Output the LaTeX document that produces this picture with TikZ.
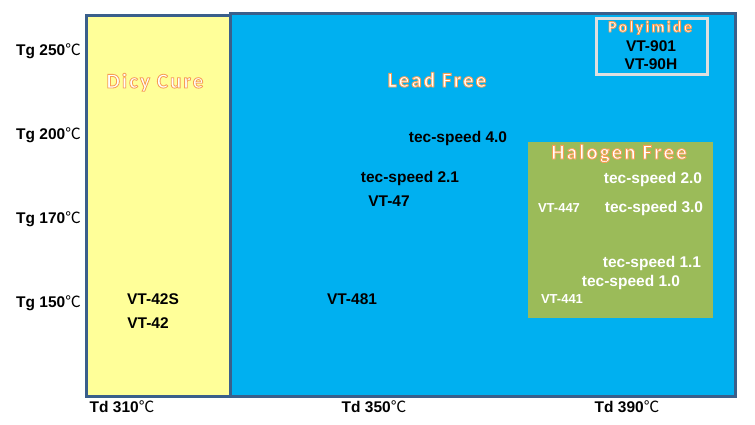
\documentclass[tikz,border=0pt]{standalone}
\usepackage{fontspec}
\setmainfont{Liberation Sans}
\newfontfamily\glowfont[LetterSpace=10]{Carlito}
\newfontfamily\cjk{Noto Sans CJK SC}
\usepackage{xcolor}
\usepackage{tikz}
\usetikzlibrary{positioning}

\definecolor{leadblue}{HTML}{00B0F0}
\definecolor{dicyyellow}{HTML}{FFFF99}
\definecolor{halogreen}{HTML}{9BBB59}
\definecolor{frameblue}{HTML}{3A5F8B}

\newcommand{\degc}{{\cjk\mdseries ℃}}
%% white letters with an orange outline
\newcommand{\outlined}[1]{%
  \special{pdf:literal direct 2 Tr 0.85 w 0.97 0.62 0.33 RG}#1%
  \special{pdf:literal direct 0 Tr}}

\begin{document}
\begin{tikzpicture}[x=1pt, y=-1pt,
  lbl/.style={anchor=base, inner sep=0pt, font=\fontsize{15.5}{18}\selectfont\bfseries},
  wlbl/.style={lbl, text=white},
  small/.style={font=\fontsize{13}{15}\selectfont\bfseries},
  title/.style={anchor=base, inner sep=0pt, text=white,
    font=\fontsize{21}{24}\glowfont\bfseries},
  frame/.style={draw=frameblue, line width=3pt}]
  \useasboundingbox (0,0) rectangle (755,424);
  %% regions
  \draw[frame, fill=dicyyellow] (86,15) rectangle (230,396);
  \draw[frame, fill=leadblue] (230,13) rectangle (735,396);
  \fill[halogreen] (528,142) rectangle (713,318);
  \draw[draw=gray!25, line width=3pt] (596,18) rectangle (707,74);
  %% titles
  \node[title] (dicy) at (155,88) {\outlined{Dicy Cure}};
  \node[title] (lead) at (437,87) {\outlined{Lead Free}};
  \node[title] (halo) at (619,159) {\outlined{Halogen Free}};
  \node[title, font=\fontsize{16}{18}\glowfont\bfseries] (poly) at (650,32)
    {\addfontfeature{LetterSpace=14}\outlined{Polyimide}};
  %% Tg axis
  \foreach \t/\y in {250/55, 200/139, 170/223, 150/307}{
    \node[lbl, anchor=base east] (tg\t) at (81,\y) {Tg \t\degc};
  }
  %% Td axis
  \foreach \t/\x in {310/122, 350/374, 390/627}{
    \node[lbl] (td\t) at (\x,412) {Td \t\degc};
  }
  %% products
  \node[lbl] (vt901) at (651,51) {VT-901};
  \node[lbl] (vt90h) at (651,69) {VT-90H};
  \node[lbl] (ts40) at (458,142) {tec-speed 4.0};
  \node[lbl] (ts21) at (410,182) {tec-speed 2.1};
  \node[lbl] (vt47) at (389,206) {VT-47};
  \node[lbl] (vt481) at (352,304) {VT-481};
  \node[lbl] (vt42s) at (153,304) {VT-42S};
  \node[lbl] (vt42) at (148,328) {VT-42};
  \node[wlbl] (ts20) at (653,183) {tec-speed 2.0};
  \node[wlbl] (ts30) at (654,212) {tec-speed 3.0};
  \node[wlbl, small] (vt447) at (559,212) {VT-447};
  \node[wlbl] (ts11) at (652,267) {tec-speed 1.1};
  \node[wlbl] (ts10) at (631,286) {tec-speed 1.0};
  \node[wlbl, small] (vt441) at (562,303) {VT-441};
\end{tikzpicture}
\end{document}
